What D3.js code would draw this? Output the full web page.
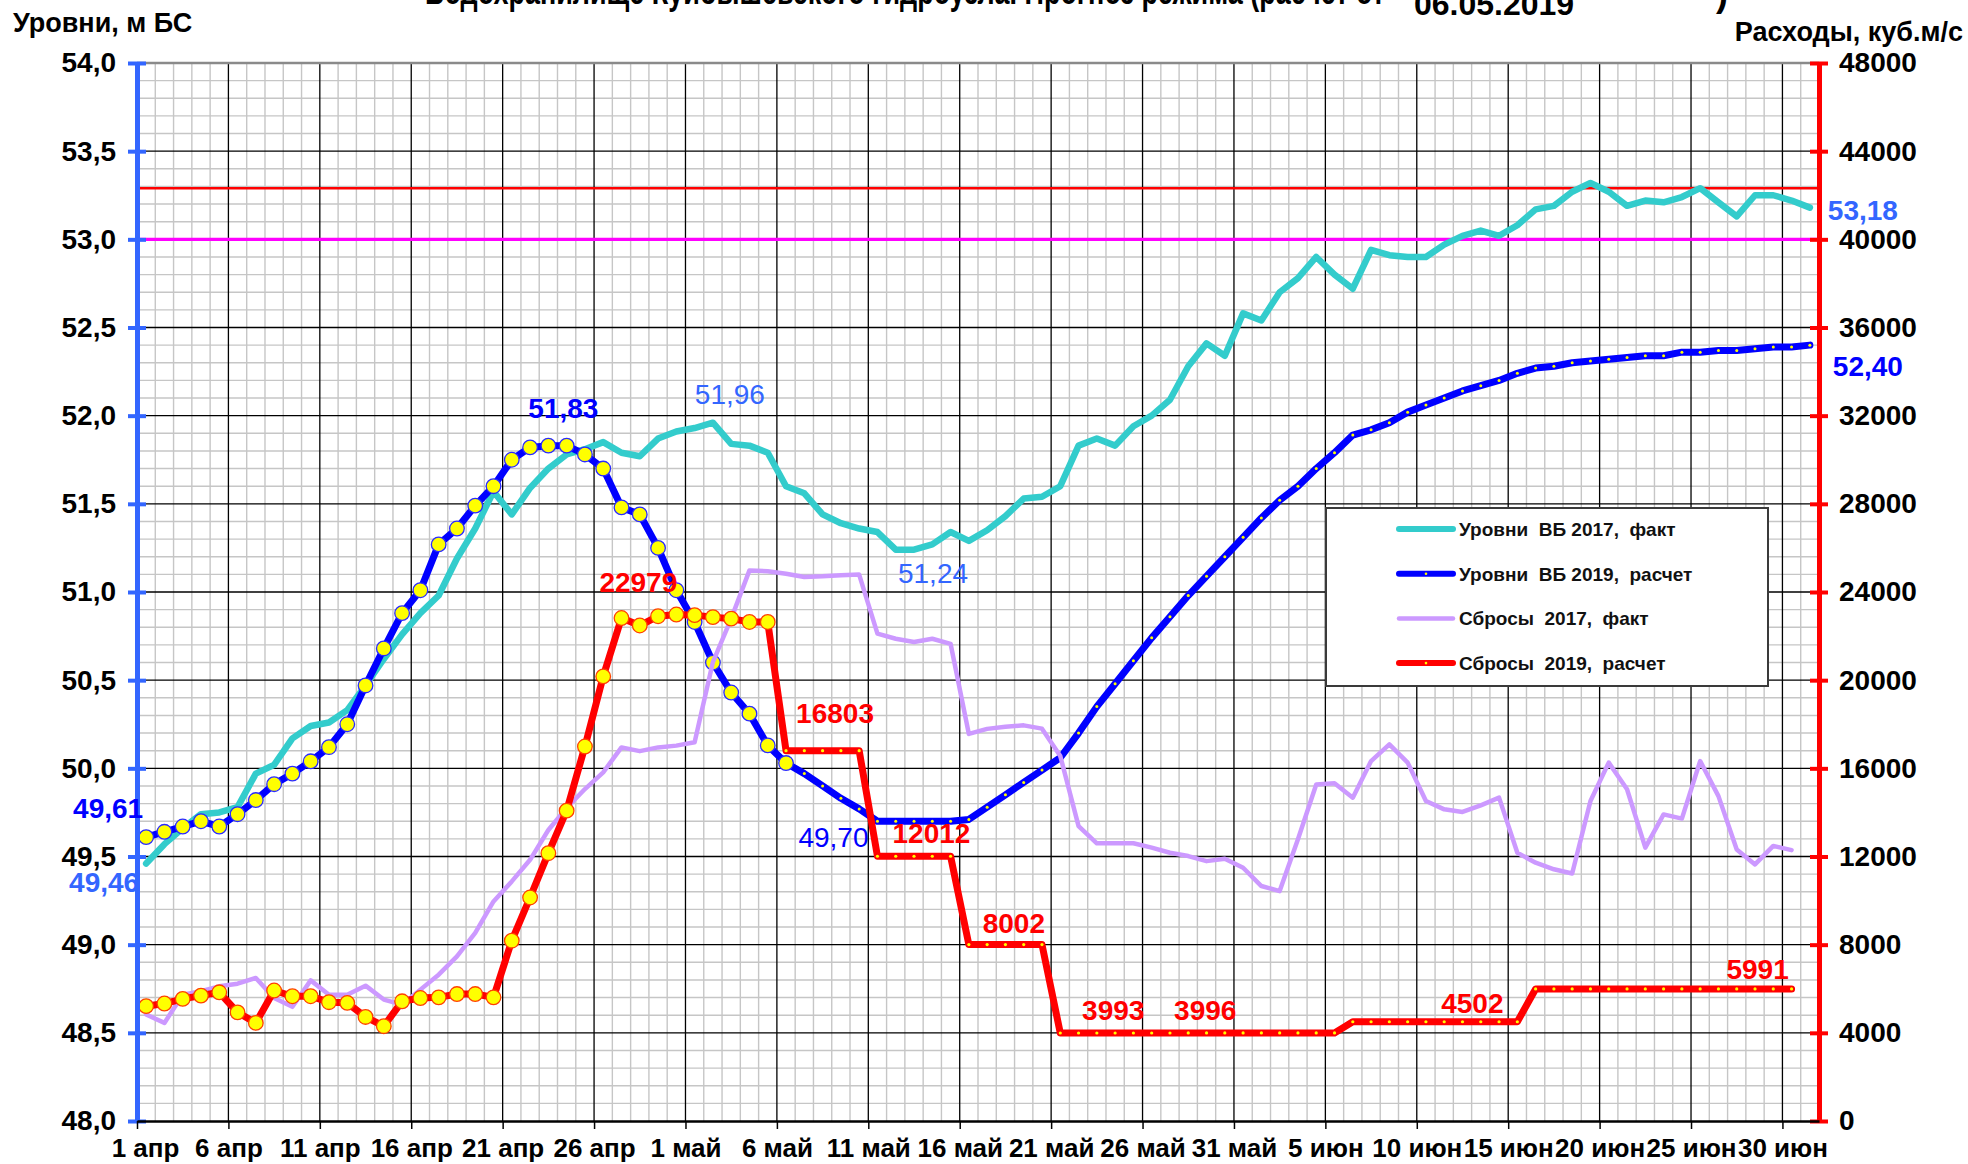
<!DOCTYPE html>
<html><head><meta charset="utf-8">
<script src="https://cdn.jsdelivr.net/npm/d3@7"></script>
<style>
html,body{margin:0;padding:0;background:#fff;}
svg{display:block;font-family:"Liberation Sans",Arial,sans-serif;}
text{white-space:pre;}
</style></head><body>
<svg id="chart" width="1968" height="1164"></svg>
<script>
// ---------------- DATA ----------------
const dateLabels = ["1 апр","6 апр","11 апр","16 апр","21 апр","26 апр","1 май","6 май","11 май","16 май","21 май","26 май","31 май","5 июн","10 июн","15 июн","20 июн","25 июн","30 июн"];
const levelTicks = [48.0,48.5,49.0,49.5,50.0,50.5,51.0,51.5,52.0,52.5,53.0,53.5,54.0];
const flowTicks = [0,4000,8000,12000,16000,20000,24000,28000,32000,36000,40000,44000,48000];
const dayCount = 92; // 1 апр .. 1 июл

// Уровни ВБ 2017, факт (м БС)
const levels2017 = [49.46,49.57,49.66,49.74,49.75,49.78,49.97,50.02,50.17,50.24,
 50.26,50.33,50.47,50.62,50.76,50.88,50.98,51.19,51.36,51.57,
 51.44,51.59,51.70,51.78,51.81,51.85,51.79,51.77,51.87,51.91,
 51.93,51.96,51.84,51.83,51.79,51.60,51.56,51.44,51.39,51.36,
 51.34,51.24,51.24,51.27,51.34,51.29,51.35,51.43,51.53,51.54,
 51.60,51.83,51.87,51.83,51.94,52.00,52.09,52.28,52.41,52.34,
 52.58,52.54,52.70,52.78,52.90,52.80,52.72,52.94,52.91,52.90,
 52.90,52.97,53.02,53.05,53.02,53.08,53.17,53.19,53.27,53.32,
 53.27,53.19,53.22,53.21,53.24,53.29,53.21,53.13,53.25,53.25,
 53.22,53.18];
// Уровни ВБ 2019, расчет (м БС)
const levels2019 = [49.61,49.64,49.67,49.70,49.67,49.74,49.82,49.91,49.97,50.04,
 50.12,50.25,50.47,50.68,50.88,51.01,51.27,51.36,51.49,51.60,
 51.75,51.82,51.83,51.83,51.78,51.70,51.48,51.44,51.25,51.01,
 50.83,50.60,50.43,50.31,50.13,50.03,49.97,49.90,49.83,49.77,
 49.70,49.70,49.70,49.70,49.70,49.71,49.78,49.85,49.92,49.99,
 50.06,50.20,50.35,50.48,50.61,50.74,50.86,50.98,51.09,51.20,
 51.31,51.42,51.52,51.60,51.70,51.79,51.89,51.92,51.96,52.02,
 52.06,52.10,52.14,52.17,52.20,52.24,52.27,52.28,52.30,52.31,
 52.32,52.33,52.34,52.34,52.36,52.36,52.37,52.37,52.38,52.39,
 52.39,52.40];
// Сбросы 2017, факт (куб.м/с)
const flows2017 = [4830,4450,5730,5890,6110,6230,6490,5580,5180,6380,
 5730,5730,6140,5510,5280,5960,6640,7470,8530,9960,
 10870,11850,13200,14200,15060,15820,16950,16780,16950,17030,
 17180,20820,22790,24980,24940,24830,24680,24710,24760,24790,
 22110,21880,21730,21880,21650,17560,17790,17890,17950,17800,
 16560,13380,12600,12600,12600,12400,12170,12020,11790,11900,
 11490,10660,10430,12780,15270,15320,14670,16330,17090,16260,
 14520,14140,14020,14320,14670,12170,11720,11420,11230,14520,
 16260,15050,12400,13910,13720,16330,14740,12320,11640,12480,
 12290];
// Сбросы 2019, расчет (куб.м/с)
const flows2019 = [5210,5330,5540,5690,5840,4930,4450,5920,5660,5660,
 5390,5360,4720,4300,5430,5580,5610,5760,5760,5610,
 8180,10140,12150,14080,16990,20170,22820,22480,22900,22979,
 22950,22860,22790,22640,22640,16803,16803,16803,16803,16803,
 12012,12012,12012,12012,12012,8002,8002,8002,8002,8002,
 3993,3993,3993,3993,3993,3993,3993,3996,3996,3996,
 3996,3996,3996,3996,3996,3996,4502,4502,4502,4502,
 4502,4502,4502,4502,4502,4502,5991,5991,5991,5991,
 5991,5991,5991,5991,5991,5991,5991,5991,5991,5991,
 5991];
// actual (marked) days before forecast date 06.05.2019
const markedLevels2019 = 36;
const markedFlows2019 = 35;
// reference levels (м БС)
const refLevels = [53.29, 53.0];

const legendNames = ["Уровни  ВБ 2017,  факт","Уровни  ВБ 2019,  расчет","Сбросы  2017,  факт","Сбросы  2019,  расчет"];

const pointLabels = [
 {series:"levels2019", day:0,  text:"49,61"},
 {series:"levels2017", day:0,  text:"49,46"},
 {series:"levels2019", day:22, text:"51,83"},
 {series:"levels2017", day:31, text:"51,96"},
 {series:"levels2017", day:42, text:"51,24"},
 {series:"levels2019", day:40, text:"49,70"},
 {series:"levels2019", day:91, text:"52,40"},
 {series:"levels2017", day:91, text:"53,18"},
 {series:"flows2019",  day:29, text:"22979"},
 {series:"flows2019",  day:35, text:"16803"},
 {series:"flows2019",  day:40, text:"12012"},
 {series:"flows2019",  day:45, text:"8002"},
 {series:"flows2019",  day:50, text:"3993"},
 {series:"flows2019",  day:57, text:"3996"},
 {series:"flows2019",  day:75, text:"4502"},
 {series:"flows2019",  day:90, text:"5991"}
];

// ---------------- STYLE ----------------
const C = {cyan:"#33cccc", blue:"#0000ff", lblue:"#3366ff", purple:"#cc99ff", red:"#ff0000", magenta:"#ff00ff"};
const labelStyle = {
 "49,61":{dx:-38,dy:-19,color:C.blue,weight:"bold"},
 "49,46":{dx:-42,dy:28,color:C.lblue,weight:"bold"},
 "51,83":{dx:15,dy:-28,color:C.blue,weight:"bold"},
 "51,96":{dx:17,dy:-19,color:C.lblue,weight:"normal"},
 "51,24":{dx:19,dy:33,color:C.lblue,weight:"normal"},
 "49,70":{dx:-44,dy:26,color:C.blue,weight:"normal"},
 "52,40":{dx:58,dy:31,color:C.blue,weight:"bold"},
 "53,18":{dx:53,dy:12,color:C.lblue,weight:"bold"},
 "22979":{dx:-38,dy:-23,color:C.red,weight:"bold"},
 "16803":{dx:49,dy:-28,color:C.red,weight:"bold"},
 "12012":{dx:54,dy:-13,color:C.red,weight:"bold"},
 "8002":{dx:45,dy:-12,color:C.red,weight:"bold"},
 "3993":{dx:53,dy:-13,color:C.red,weight:"bold"},
 "3996":{dx:17,dy:-13,color:C.red,weight:"bold"},
 "4502":{dx:-45,dy:-9,color:C.red,weight:"bold"},
 "5991":{dx:-34,dy:-10,color:C.red,weight:"bold"}
};

const L = 137, R = 1819, T = 63, B = 1121;
const svg = d3.select("#chart");
const x = d3.scaleLinear().domain([0, dayCount]).range([L, R]);
const yL = d3.scaleLinear().domain([48, 54]).range([B, T]);
const yR = d3.scaleLinear().domain([0, 48000]).range([B, T]);
const px = i => x(i + 0.5);

// ---------------- GRID ----------------
const grid = svg.append("g");
const tenths = d3.range(481, 540).filter(v => v % 5 !== 0).map(v => v / 10);
grid.selectAll(".hmin").data(tenths).join("line")
 .attr("x1", L).attr("x2", R).attr("y1", d => yL(d)).attr("y2", d => yL(d))
 .attr("stroke", "#c6c6c6").attr("stroke-width", 1.4);
const days = d3.range(1, dayCount).filter(v => v % 5 !== 0);
grid.selectAll(".vmin").data(days).join("line")
 .attr("y1", T).attr("y2", B).attr("x1", d => x(d)).attr("x2", d => x(d))
 .attr("stroke", "#c6c6c6").attr("stroke-width", 1.4);
grid.selectAll(".hmaj").data(levelTicks.slice(1, -1)).join("line")
 .attr("x1", L).attr("x2", R).attr("y1", d => yL(d)).attr("y2", d => yL(d))
 .attr("stroke", "#000").attr("stroke-width", 1.3);
grid.selectAll(".vmaj").data(d3.range(5, dayCount, 5)).join("line")
 .attr("y1", T).attr("y2", B).attr("x1", d => x(d)).attr("x2", d => x(d))
 .attr("stroke", "#000").attr("stroke-width", 1.3);
grid.append("line").attr("x1", L).attr("x2", R).attr("y1", T).attr("y2", T)
 .attr("stroke", "#8a8a8a").attr("stroke-width", 2.5);

// reference lines
svg.append("g").selectAll("line").data(refLevels).join("line")
 .attr("x1", L).attr("x2", R).attr("y1", d => yL(d)).attr("y2", d => yL(d))
 .attr("stroke", (d, i) => i === 0 ? C.red : C.magenta).attr("stroke-width", (d, i) => i === 0 ? 2.5 : 3.2);

// ---------------- SERIES ----------------
const lineL = d3.line().x((d, i) => px(i)).y(d => yL(d));
const lineR = d3.line().x((d, i) => px(i)).y(d => yR(d));
const series = svg.append("g").attr("fill", "none").attr("stroke-linejoin", "round").attr("stroke-linecap", "round");
series.append("path").attr("d", lineL(levels2017)).attr("stroke", C.cyan).attr("stroke-width", 6.5);
series.append("path").attr("d", lineL(levels2019)).attr("stroke", C.blue).attr("stroke-width", 7);
svg.append("g").selectAll("circle").data(levels2019.map((v, i) => [v, i]).filter(d => d[1] < markedLevels2019)).join("circle")
 .attr("cx", d => px(d[1])).attr("cy", d => yL(d[0])).attr("r", 7.3)
 .attr("fill", "#ffff00").attr("stroke", "#2a2aff").attr("stroke-width", 1.3);
svg.append("g").selectAll("circle").data(levels2019.map((v, i) => [v, i]).filter(d => d[1] >= markedLevels2019)).join("circle")
 .attr("cx", d => px(d[1])).attr("cy", d => yL(d[0])).attr("r", 1.5).attr("fill", "#ffff00");

const series2 = svg.append("g").attr("fill", "none").attr("stroke-linejoin", "round").attr("stroke-linecap", "round");
series2.append("path").attr("d", lineR(flows2017)).attr("stroke", C.purple).attr("stroke-width", 4.5);
series2.append("path").attr("d", lineR(flows2019)).attr("stroke", C.red).attr("stroke-width", 7);
svg.append("g").selectAll("circle").data(flows2019.map((v, i) => [v, i]).filter(d => d[1] < markedFlows2019)).join("circle")
 .attr("cx", d => px(d[1])).attr("cy", d => yR(d[0])).attr("r", 7.3)
 .attr("fill", "#ffff00").attr("stroke", "#ff4000").attr("stroke-width", 1.3);
svg.append("g").selectAll("circle").data(flows2019.map((v, i) => [v, i]).filter(d => d[1] >= markedFlows2019)).join("circle")
 .attr("cx", d => px(d[1])).attr("cy", d => yR(d[0])).attr("r", 1.6).attr("fill", "#ffff00");

// ---------------- AXES ----------------
const fmtLevel = d => d.toFixed(1).replace(".", ",");
const axL = svg.append("g").attr("transform", `translate(${L},0)`)
 .call(d3.axisLeft(yL).tickValues(levelTicks).tickFormat(fmtLevel).tickSize(0).tickPadding(21));
axL.select(".domain").attr("stroke", C.lblue).attr("stroke-width", 5);
axL.selectAll(".tick").append("line").attr("x1", -9).attr("x2", 9).attr("stroke", C.lblue).attr("stroke-width", 4);
axL.selectAll("text").attr("font-size", 28).attr("font-weight", "bold").attr("fill", "#000").attr("font-family", "Liberation Sans, Arial");

const axR = svg.append("g").attr("transform", `translate(${R},0)`)
 .call(d3.axisRight(yR).tickValues(flowTicks).tickFormat(d3.format("d")).tickSize(0).tickPadding(20));
axR.select(".domain").attr("stroke", C.red).attr("stroke-width", 5);
axR.selectAll(".tick").append("line").attr("x1", -9).attr("x2", 9).attr("stroke", C.red).attr("stroke-width", 4);
axR.selectAll("text").attr("font-size", 28).attr("font-weight", "bold").attr("fill", "#000").attr("font-family", "Liberation Sans, Arial");

const axB = svg.append("g").attr("transform", `translate(0,${B})`)
 .call(d3.axisBottom(x).tickValues(d3.range(0, 91, 5)).tickFormat((d, i) => dateLabels[i]).tickSizeInner(8).tickSizeOuter(0));
axB.select(".domain").attr("stroke", "#000").attr("stroke-width", 2.5);
axB.selectAll(".tick line").attr("stroke", "#000").attr("stroke-width", 1.5);
axB.selectAll("text").attr("font-size", 26).attr("font-weight", "bold").attr("fill", "#000")
 .attr("font-family", "Liberation Sans, Arial").attr("y", 36).attr("dy", 0)
 .attr("dx", (d, i) => i === 0 ? 8 : 0);

// axis titles
svg.append("text").attr("x", 13).attr("y", 32).attr("font-size", 27).attr("font-weight", "bold").text("Уровни, м БС");
svg.append("text").attr("x", 1963).attr("y", 41).attr("text-anchor", "end").attr("font-size", 27).attr("font-weight", "bold").text("Расходы, куб.м/с");

// title (cut off at the top edge, as in the source picture)
svg.append("text").attr("x", 425).attr("y", 4).attr("font-size", 36).attr("font-weight", "bold")
 .attr("textLength", 960).attr("lengthAdjust", "spacingAndGlyphs")
 .text("Водохранилище Куйбышевского гидроузла. Прогноз режима (расчет от");
svg.append("text").attr("x", 1414).attr("y", 15).attr("font-size", 32).attr("font-weight", "bold").text("06.05.2019");
svg.append("text").attr("x", 1716).attr("y", 6).attr("font-size", 36).attr("font-weight", "bold").text(")");

// ---------------- DATA LABELS ----------------
const seriesMap = {levels2017:[levels2017, yL], levels2019:[levels2019, yL], flows2017:[flows2017, yR], flows2019:[flows2019, yR]};
svg.append("g").selectAll("text").data(pointLabels).join("text")
 .attr("x", d => px(d.day) + labelStyle[d.text].dx)
 .attr("y", d => seriesMap[d.series][1](seriesMap[d.series][0][d.day]) + labelStyle[d.text].dy)
 .attr("text-anchor", "middle").attr("font-size", 28)
 .attr("font-weight", d => labelStyle[d.text].weight)
 .attr("fill", d => labelStyle[d.text].color)
 .text(d => d.text);

// ---------------- LEGEND ----------------
const lg = svg.append("g");
lg.append("rect").attr("x", 1326).attr("y", 508).attr("width", 442).attr("height", 178)
 .attr("fill", "#fff").attr("stroke", "#3a3a3a").attr("stroke-width", 2);
const legColors = [C.cyan, C.blue, C.purple, C.red];
const legWidths = [6, 6, 4.5, 6];
const legDot = [false, true, false, true];
legendNames.forEach((name, i) => {
  const yy = 529 + i * 44.7;
  lg.append("line").attr("x1", 1399).attr("x2", 1453).attr("y1", yy).attr("y2", yy)
    .attr("stroke", legColors[i]).attr("stroke-width", legWidths[i]).attr("stroke-linecap", "round");
  if (legDot[i]) lg.append("circle").attr("cx", 1426).attr("cy", yy).attr("r", 1.3).attr("fill", "#ffff00");
  lg.append("text").attr("x", 1459).attr("y", yy).attr("dy", "0.36em").attr("font-size", 19).attr("font-weight", "bold")
    .attr("fill", "#111").text(name);
});
</script>
</body></html>
